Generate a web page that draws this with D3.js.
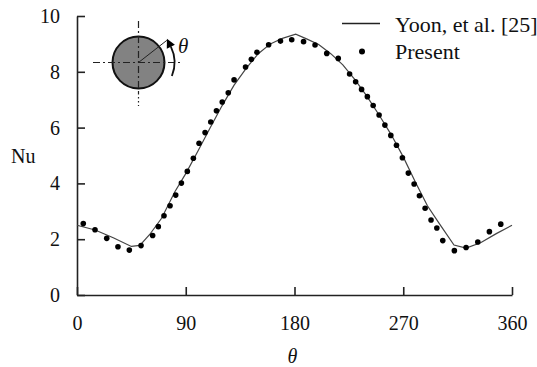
<!DOCTYPE html>
<html>
<head>
<meta charset="utf-8">
<script src="https://cdn.jsdelivr.net/npm/d3@7"></script>
<style>
  body { margin: 0; background: #fff; }
  svg { display: block; }
  svg text { font-family: "Liberation Serif", Tinos, "Times New Roman", Times, serif; }
</style>
</head>
<body>
<div id="chart"></div>
<script>
// Yoon, et al. [25] reference curve (theta in degrees, Nu)
const yoonTheta = [0, 15, 30, 45, 52, 60, 70, 81, 90, 100, 110, 120, 130, 140, 150, 160, 170, 181,
    190, 200, 210, 220, 230, 240, 250, 260, 270, 280, 290, 300, 312, 322, 334, 347, 360];
const yoonNu = [2.5, 2.33, 2.05, 1.74, 1.78, 2.16, 2.75, 3.7, 4.35, 5.15, 5.98, 6.78, 7.52, 8.12, 8.65, 9.0, 9.2, 9.35,
    9.18, 8.98, 8.65, 8.25, 7.72, 7.12, 6.45, 5.75, 4.95, 4.05, 3.2, 2.55, 1.79, 1.68, 1.87, 2.2, 2.5];

// Present results
const presentTheta = [5.2, 14.9, 24.6, 33.9, 43.3, 53, 62.6, 67.3, 72, 77, 81.7, 86.4, 91.3, 96.3, 101, 106,
    110.7, 115.4, 120.2, 125.2, 130, 139.5, 144.3, 148.9, 158.6, 168.4, 177.7, 187.5, 197, 206.7, 216.2,
    225.6, 230.6, 235.5, 240.3, 245.1, 250, 254.8, 259.7, 264.4, 269.3, 274.2, 279, 283.4, 288.1, 293,
    297.8, 302.7, 312.3, 322, 331.7, 341.3, 350.7];
const presentNu = [2.56, 2.34, 2.03, 1.73, 1.61, 1.77, 2.13, 2.45, 2.84, 3.2, 3.58, 4.01, 4.43, 4.9, 5.44, 5.82,
    6.2, 6.6, 6.92, 7.25, 7.71, 8.17, 8.45, 8.7, 8.97, 9.1, 9.15, 9.08, 8.96, 8.66, 8.48,
    7.92, 7.64, 7.37, 7.11, 6.79, 6.45, 6.09, 5.72, 5.37, 4.92, 4.37, 3.98, 3.56, 3.11, 2.69,
    2.4, 1.95, 1.59, 1.7, 1.9, 2.27, 2.54];

const xTicks = [0, 90, 180, 270, 360];
const yTicks = [0, 2, 4, 6, 8, 10];
const legendLabels = ["Yoon, et al. [25]", "Present"];

const W = 537, H = 367;
const margin = { top: 16, right: 25, bottom: 72, left: 77 };
const width = W - margin.left - margin.right;
const height = H - margin.top - margin.bottom;
const FONT = '"Liberation Serif", Tinos, "Times New Roman", Times, serif';

const root = d3.select("#chart").append("svg")
    .attr("width", W)
    .attr("height", H)
    .attr("font-family", FONT);

root.append("rect").attr("width", W).attr("height", H).attr("fill", "#fff");

const svg = root.append("g")
    .attr("transform", `translate(${margin.left},${margin.top})`);

const x = d3.scaleLinear().domain([0, 360]).range([0, width]);
const y = d3.scaleLinear().domain([0, 10]).range([height, 0]);

// axes, ticks pointing inward
const xAxis = svg.append("g")
    .attr("transform", `translate(0,${height})`)
    .call(d3.axisBottom(x).tickValues(xTicks).tickSizeInner(-8).tickSizeOuter(0).tickPadding(21));
const yAxis = svg.append("g")
    .call(d3.axisLeft(y).tickValues(yTicks).tickSizeInner(-8).tickSizeOuter(0).tickPadding(17));

[xAxis, yAxis].forEach(a => {
    a.attr("font-family", FONT).attr("font-size", 20);
    a.select(".domain").attr("stroke", "#222").attr("stroke-width", 1.6);
    a.selectAll(".tick line").attr("stroke", "#222").attr("stroke-width", 1.6);
    a.selectAll(".tick text").attr("fill", "#111");
});

// axis titles
svg.append("text")
    .attr("x", x(180) - 2)
    .attr("y", height + 68)
    .attr("text-anchor", "middle")
    .attr("font-size", 20)
    .attr("font-style", "italic")
    .attr("fill", "#111")
    .text("θ");

root.append("text")
    .attr("x", 11)
    .attr("y", 163)
    .attr("font-size", 20)
    .attr("fill", "#111")
    .text("Nu");

// Yoon curve
const yoon = yoonTheta.map((t, i) => ({ t, v: yoonNu[i] }));
svg.append("path")
    .datum(yoon)
    .attr("fill", "none")
    .attr("stroke", "#444")
    .attr("stroke-width", 1.2)
    .attr("d", d3.line().x(d => x(d.t)).y(d => y(d.v)));

// present points
const present = presentTheta.map((t, i) => ({ t, v: presentNu[i] }));
svg.append("g")
    .selectAll("circle")
    .data(present)
    .enter()
    .append("circle")
    .attr("cx", d => x(d.t))
    .attr("cy", d => y(d.v))
    .attr("r", 2.8)
    .attr("fill", "#000");

// legend
const leg = root.append("g").attr("transform", "translate(342,23.5)");
leg.append("line")
    .attr("x1", 0).attr("x2", 38).attr("y1", 0).attr("y2", 0)
    .attr("stroke", "#222").attr("stroke-width", 1.6);
leg.append("circle").attr("cx", 20).attr("cy", 28).attr("r", 3).attr("fill", "#000");
leg.selectAll("text.lbl")
    .data(legendLabels)
    .enter()
    .append("text")
    .attr("class", "lbl")
    .attr("x", 53)
    .attr("y", (d, i) => 8.5 + i * 27)
    .attr("font-size", 22)
    .attr("fill", "#111")
    .text(d => d);

// inset sketch: cylinder with angle definition
const cx = 138.5, cy = 62.5, r = 26;
const inset = root.append("g");
inset.append("circle")
    .attr("cx", cx).attr("cy", cy).attr("r", r)
    .attr("fill", "#828282").attr("stroke", "#111").attr("stroke-width", 2);
inset.append("line")
    .attr("x1", 93).attr("x2", 180).attr("y1", cy).attr("y2", cy)
    .attr("stroke", "#222").attr("stroke-width", 1.2).attr("stroke-dasharray", "7,3,2,3");
inset.append("line")
    .attr("x1", cx).attr("x2", cx).attr("y1", 21).attr("y2", 93)
    .attr("stroke", "#222").attr("stroke-width", 1.2).attr("stroke-dasharray", "7,3,2,3");
inset.append("line")
    .attr("x1", cx).attr("x2", cx).attr("y1", 93).attr("y2", 106)
    .attr("stroke", "#222").attr("stroke-width", 1.2).attr("stroke-dasharray", "1.5,2.5");
const ang = 38 * Math.PI / 180;
inset.append("line")
    .attr("x1", cx).attr("y1", cy)
    .attr("x2", cx + 36 * Math.cos(ang)).attr("y2", cy - 36 * Math.sin(ang))
    .attr("stroke", "#222").attr("stroke-width", 1);
const arcR = 36;
const a0 = -22 * Math.PI / 180, a1 = 26 * Math.PI / 180;
const arcPath = d3.path();
arcPath.arc(cx, cy, arcR, -a0, -a1, true);
inset.append("path")
    .attr("d", arcPath.toString())
    .attr("fill", "none").attr("stroke", "#111").attr("stroke-width", 1.8);
// arrowhead at end of arc, pointing counter-clockwise
const ex = cx + arcR * Math.cos(a1), ey = cy - arcR * Math.sin(a1);
const tx = -Math.sin(a1), ty = -Math.cos(a1);
const nx = Math.cos(a1), ny = -Math.sin(a1);
const L = 9, Wd = 4.5;
inset.append("path")
    .attr("d", `M${ex + tx * L},${ey + ty * L} L${ex + nx * Wd},${ey + ny * Wd} L${ex - nx * Wd},${ey - ny * Wd} Z`)
    .attr("fill", "#000");
root.append("text")
    .attr("x", 178)
    .attr("y", 53)
    .attr("font-size", 21)
    .attr("font-style", "italic")
    .attr("fill", "#111")
    .text("θ");
</script>
</body>
</html>
